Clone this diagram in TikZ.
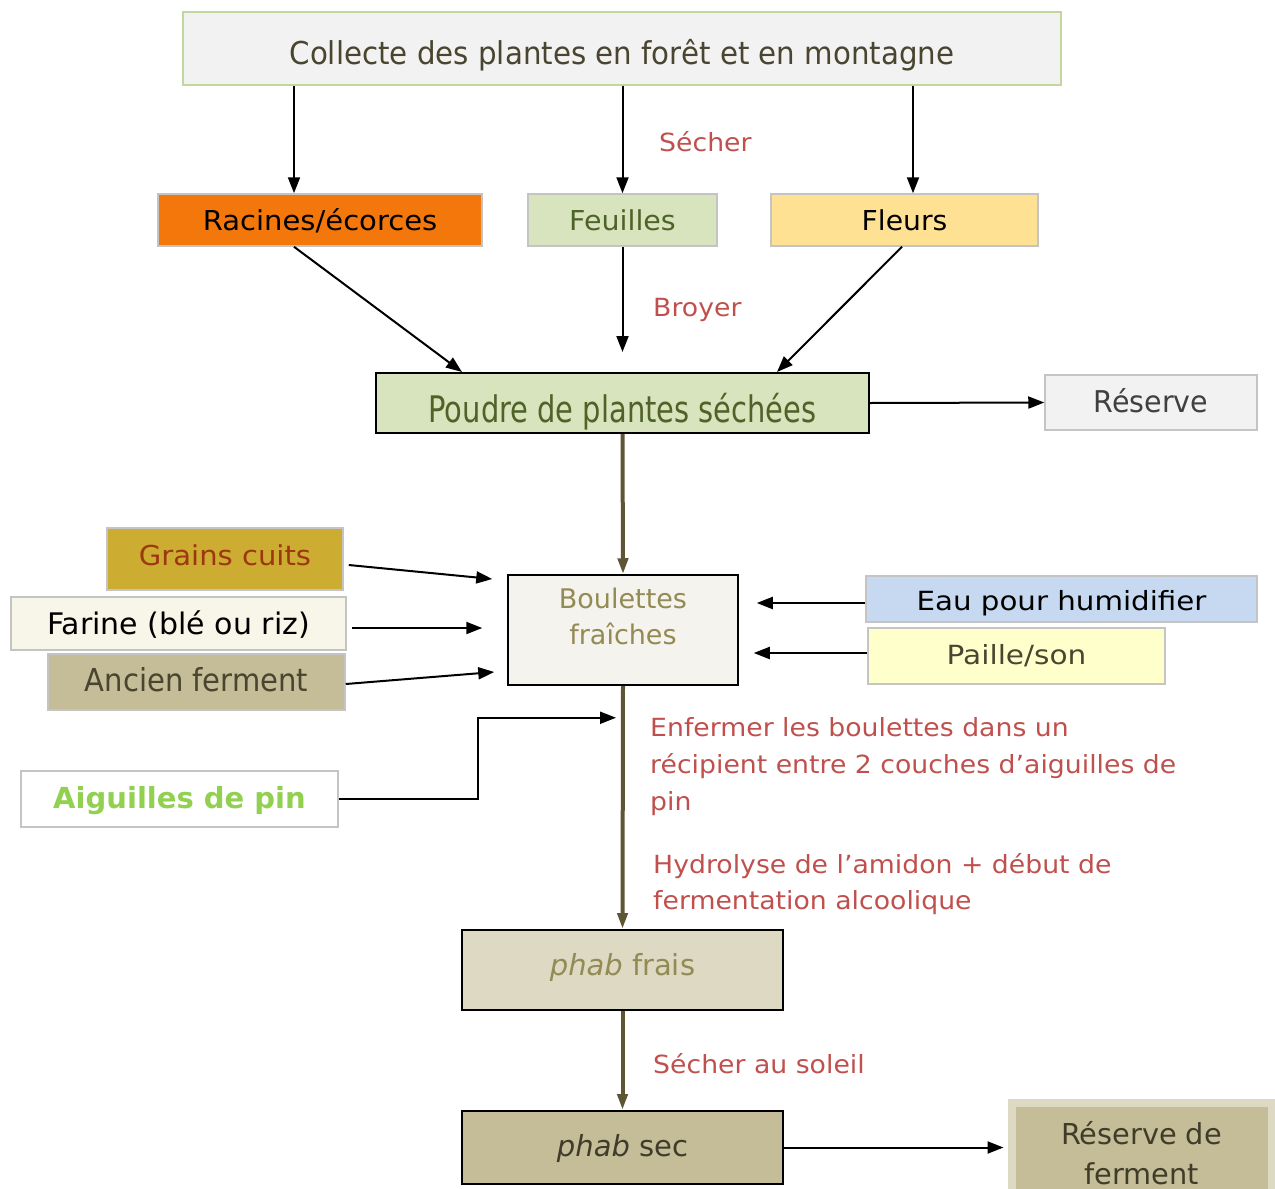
\documentclass[tikz,border=0pt]{standalone}
\usepackage{fontspec}
\setmainfont{DejaVu Sans}
\usetikzlibrary{arrows.meta,calc}
\definecolor{boxgray}{HTML}{C4C4C4}
\definecolor{lgreenb}{HTML}{C3D69B}
\definecolor{topfill}{HTML}{F2F2F2}
\definecolor{toptext}{HTML}{4A4530}
\definecolor{orangef}{HTML}{F4770C}
\definecolor{greenf}{HTML}{D7E4BD}
\definecolor{greent}{HTML}{4F6228}
\definecolor{yellowf}{HTML}{FFE194}
\definecolor{grainsf}{HTML}{CDAC32}
\definecolor{grainst}{HTML}{9C380E}
\definecolor{farinef}{HTML}{F8F6E8}
\definecolor{khakif}{HTML}{C4BD97}
\definecolor{khakil}{HTML}{DDD9C3}
\definecolor{khakit}{HTML}{948A54}
\definecolor{darkt}{HTML}{403C2A}
\definecolor{bluef}{HTML}{C6D9F1}
\definecolor{paillef}{HTML}{FFFFCC}
\definecolor{boulf}{HTML}{F4F3EE}
\definecolor{redt}{HTML}{C0504D}
\definecolor{olivea}{HTML}{5E5535}
\definecolor{aigt}{HTML}{92D050}
\definecolor{grayt}{HTML}{404040}
\tikzset{
  fs/.style n args={3}{font=\fontsize{#1}{#2}\selectfont\addfontfeatures{FakeStretch=#3}},
  bl/.style={text height=#1, text depth=0pt},
  box/.style={draw=boxgray, line width=1.5pt, inner sep=0pt},
  darkbox/.style={box, draw=black, line width=2pt},
  arr/.style={-{Triangle[length=16pt,width=12pt]}, line width=2pt, draw=black},
  oarr/.style={-{Triangle[length=16pt,width=10pt]}, line width=4pt, draw=olivea},
  lbl/.style={text=redt, inner sep=0pt, fs={25}{36.7}{1.068}}
}
\begin{document}
\begin{tikzpicture}[x=1pt,y=-1pt]
\useasboundingbox (0,0) rectangle (1275,1189);
% nodes
\node[box, draw=lgreenb, fill=topfill, text=toptext, fs={31.5}{36}{0.93}, bl=31pt, minimum width=878, minimum height=73] (collect) at (622,48.5) {Collecte des plantes en forêt et en montagne};
\node[box, fill=orangef, text=black, fs={27.4}{32}{1.06}, bl=21.4pt, minimum width=324, minimum height=52] (rac) at (320,220) {Racines/écorces};
\node[box, fill=greenf, text=greent, fs={27.4}{32}{1.04}, bl=21.4pt, minimum width=189, minimum height=52] (feu) at (622.5,220) {Feuilles};
\node[box, fill=yellowf, text=black, fs={27.4}{32}{1.03}, bl=21.4pt, minimum width=267, minimum height=52] (fle) at (904.5,220) {Fleurs};
\node[darkbox, fill=greenf, text=greent, fs={36.6}{42}{0.79}, bl=39.4pt, minimum width=493, minimum height=60] (poudre) at (622.5,403) {Poudre de plantes séchées};
\node[box, fill=topfill, text=grayt, fs={30}{36}{0.95}, bl=20.4pt, minimum width=212, minimum height=55] (res) at (1151,402.5) {Réserve};
\node[box, draw=black, line width=1.5pt, fill=boulf, text=khakit, fs={27}{35.7}{1}, bl=28pt, minimum width=230, minimum height=110] (boul) at (623,630) {\begin{tabular}[b]{@{}c@{}}Boulettes\\fraîches\end{tabular}};
\node[box, fill=grainsf, text=grainst, fs={27.4}{32}{1.06}, bl=13.4pt, minimum width=236, minimum height=62] (grains) at (225,559) {Grains cuits};
\node[box, fill=farinef, text=black, fs={29.7}{34}{1.01}, bl=22pt, minimum width=335, minimum height=53] (farine) at (178.5,623.5) {Farine (blé ou riz)};
\node[box, fill=khakif, text=toptext, fs={31.6}{36}{0.92}, bl=19.4pt, minimum width=297, minimum height=56] (ancien) at (196.5,682) {Ancien ferment};
\node[box, fill=bluef, text=black, fs={26.4}{30}{1.11}, bl=23.4pt, minimum width=391, minimum height=46] (eau) at (1061.5,599) {Eau pour humidifier};
\node[box, fill=paillef, text=toptext, fs={26.4}{30}{1.12}, bl=16.6pt, minimum width=297, minimum height=56] (paille) at (1016.5,656) {Paille/son};
\node[box, fill=white, text=aigt, font=\fontsize{29}{34}\selectfont\bfseries, bl=19.4pt, minimum width=317, minimum height=56] (aig) at (179.5,799) {Aiguilles de pin};
\node[darkbox, fill=khakil, text=khakit, fs={29}{34}{1}, bl=11pt, minimum width=321, minimum height=80] (frais) at (622.5,970) {\itshape phab\upshape{} frais};
\node[darkbox, fill=khakif, text=darkt, fs={29}{34}{1}, bl=18pt, minimum width=321, minimum height=73] (sec) at (622.5,1147.5) {\itshape phab\upshape{} sec};
\node[box, draw=khakil, line width=8pt, fill=khakif, text=darkt, fs={28.8}{40}{1}, bl=62pt, minimum width=260, minimum height=100] (resf) at (1141.5,1153) {\begin{tabular}[b]{@{}c@{}}Réserve de\\ferment\end{tabular}};
% labels
\node[lbl, anchor=base west] (lsecher) at (659,151) {Sécher};
\node[lbl, anchor=base west] (lbroyer) at (653,316) {Broyer};
\node[lbl, anchor=base west] (lenf) at (650,736.7) {\begin{tabular}[t]{@{}l@{}}Enfermer les boulettes dans un\\récipient entre 2 couches d’aiguilles de\\pin\end{tabular}};
\node[lbl, anchor=base west] (lhyd) at (653,873) {\begin{tabular}[t]{@{}l@{}}Hydrolyse de l’amidon + début de\\fermentation alcoolique\end{tabular}};
\node[lbl, anchor=base west] (lsol) at (653,1073) {Sécher au soleil};
% connectors
\draw[arr] ([xshift=-26]rac.north |- collect.south) -- ([xshift=-26]rac.north);
\draw[arr] (feu.north |- collect.south) -- (feu.north);
\draw[arr] ([xshift=8.5]fle.north |- collect.south) -- ([xshift=8.5]fle.north);
\draw[arr] ([xshift=-26]rac.south) -- ([xshift=-160.5]poudre.north);
\draw[arr, shorten >=20pt] (feu.south) -- (poudre.north);
\draw[arr] ([xshift=-2.5]fle.south) -- ([xshift=154.5]poudre.north);
\draw[arr] (poudre.east) -- (res.west);
\draw[oarr] (poudre.south) -- (boul.north);
\draw[arr] ([shift={(5,6)}]grains.east) -- ([shift={(-15,-51)}]boul.west);
\draw[arr] ([shift={(5,4.5)}]farine.east) -- ([shift={(-25,-2)}]boul.west);
\draw[arr] ([shift={(0,2)}]ancien.east) -- ([shift={(-13,42)}]boul.west);
\draw[arr] ([shift={(0,4)}]eau.west) -- ([shift={(18,-27)}]boul.east);
\draw[arr] ([shift={(0,-3)}]paille.west) -- ([shift={(15,23)}]boul.east);
\draw[oarr] (boul.south) -- (frais.north);
\coordinate (aigend) at ([shift={(-7,32)}]boul.south);
\draw[arr] (aig.east) -- ++(139,0) |- (aigend);
\draw[oarr] (frais.south) -- (sec.north);
\draw[arr, shorten >=4pt] (sec.east) -- (sec.east -| resf.west);
\end{tikzpicture}
\end{document}
